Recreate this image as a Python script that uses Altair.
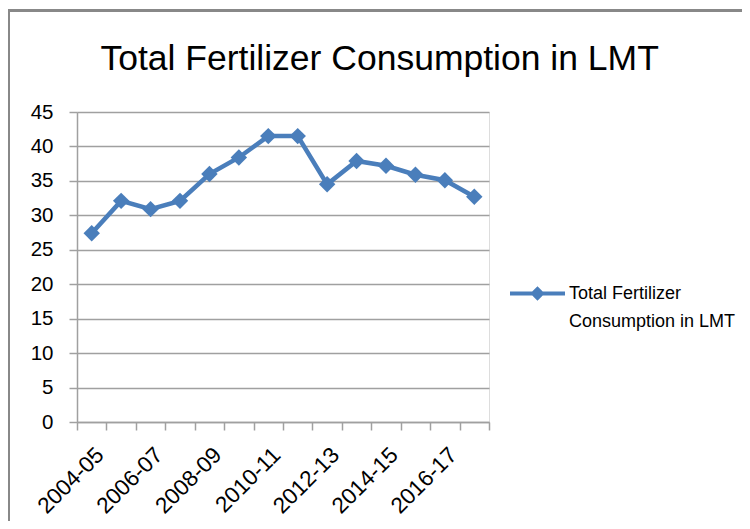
import altair as alt
import pandas as pd
import json

years = ["2004-05", "2005-06", "2006-07", "2007-08", "2008-09", "2009-10", "2010-11",
         "2011-12", "2012-13", "2013-14", "2014-15", "2015-16", "2016-17", "2017-18"]
values = [27.4, 32.1, 30.9, 32.1, 36.0, 38.4, 41.5, 41.5, 34.5, 37.9, 37.2, 35.9, 35.1, 32.7]
series = "Total Fertilizer Consumption in LMT"
legend_lines = ["Total Fertilizer", "Consumption in LMT"]
y_ticks = list(range(0, 50, 5))

df = pd.DataFrame({"year": years, "value": values, "series": series})
df["pos"] = [i + 0.5 for i in range(len(years))]

FONT = "Liberation Sans"
BLUE = "#4a7ebb"
GRID = "#a0a0a0"

W, H = 412, 310
band = W / len(years)

label_expr = ("(datum.value %% 2 == 0 && datum.value < %d) ? %s[datum.value] : ''"
              % (len(years), json.dumps(years)))

axis_style = dict(labelFont=FONT, labelColor="#000", domainColor=GRID, tickColor=GRID,
                  gridColor=GRID, gridOpacity=1, domainWidth=1.5, tickWidth=1.5,
                  gridWidth=1.5, tickSize=8, title=None)

x_enc = alt.X("pos:Q",
              scale=alt.Scale(domain=[0, len(years)], nice=False, zero=False),
              axis=alt.Axis(values=list(range(len(years) + 1)), labelExpr=label_expr,
                            labelOffset=band / 2 + 8, labelAngle=-45, labelAlign="right",
                            labelBaseline="middle", labelPadding=21, labelOverlap=False,
                            labelFlush=False, labelFontSize=22.5, grid=False, **axis_style))
y_enc = alt.Y("value:Q",
              scale=alt.Scale(domain=[0, 45], nice=False),
              axis=alt.Axis(values=y_ticks, labelPadding=16, grid=True,
                            labelOverlap=False, labelFontSize=20.5, **axis_style))
color_enc = alt.Color("series:N",
                      scale=alt.Scale(range=[BLUE]),
                      legend=alt.Legend(title=None, orient="none", legendX=431, legendY=152,
                                        symbolType="M-1,0L1,0M-0.16,0L0,-0.16L0.16,0L0,0.16Z",
                                        symbolSize=3025, symbolStrokeWidth=4,
                                        symbolFillColor=BLUE, symbolStrokeColor=BLUE,
                                        labelExpr=json.dumps(legend_lines),
                                        labelFont=FONT, labelFontSize=18, labelColor="#000",
                                        labelOffset=2, labelLimit=300))

frame = alt.Chart(df).mark_rect(fill=None, stroke="#888888", strokeWidth=2.5).encode(
    x=alt.value(-68.5), x2=alt.value(720), y=alt.value(-101.5), y2=alt.value(500))

base = alt.Chart(df).encode(x=x_enc, y=y_enc, color=color_enc)
line = base.mark_line(strokeWidth=4.5)
pts = base.mark_point(shape="diamond", filled=True, size=270, opacity=1)

chart = alt.layer(frame, line, pts).properties(
    width=W, height=H,
    background="white",
    autosize=alt.AutoSizeParams(type="none"),
    padding={"left": 69, "top": 104, "right": 253, "bottom": 99},
    title=alt.TitleParams(series, font=FONT, fontSize=35.5, fontWeight="normal", color="#000",
                          anchor="start", frame="group", dx=23.5, offset=0, dy=96,
                          baseline="alphabetic"),
).configure_view(stroke=None).configure(style={"guide-label": {"lineHeight": 28}})

chart.save("out.html", embed_options={"renderer": "svg", "actions": False})
